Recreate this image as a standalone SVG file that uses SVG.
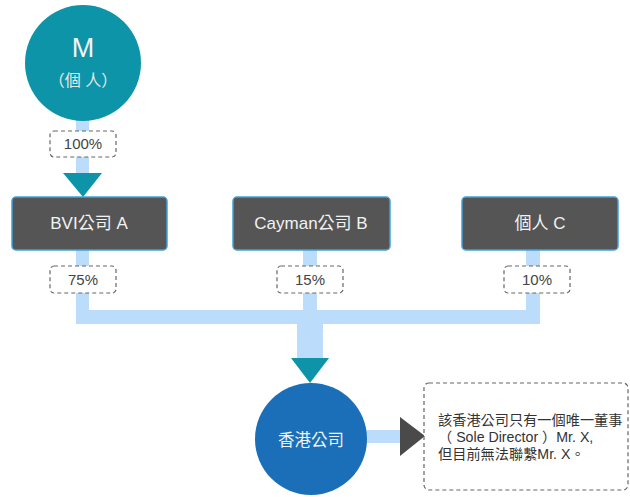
<svg xmlns="http://www.w3.org/2000/svg" width="630" height="497" viewBox="0 0 630 497">
<style>
.bar{fill:#BBDDFB}
.box rect{fill:#555555;stroke:#3FA2D8;stroke-width:1.5}
.box text{fill:#F2F2F2;font-family:"Liberation Sans","Noto Sans CJK TC",sans-serif;font-size:17px;text-anchor:middle}
.pct rect{fill:#FFFFFF;stroke:#666666;stroke-width:1.2;stroke-dasharray:4 3}
.pct text{fill:#444444;font-family:"Liberation Sans",sans-serif;font-size:15px;text-anchor:middle}
.note{fill:#333333;font-family:"Liberation Sans","Noto Sans CJK TC",sans-serif;font-size:14.2px}
</style>
<rect width="630" height="497" fill="#FFFFFF"/>
<g id="connectors">
<rect class="bar" x="76" y="120" width="13" height="55"/>
<polygon points="63,173 102,173 83,197" fill="#0E94A8"/>
<rect class="bar" x="76" y="250" width="13" height="74"/>
<rect class="bar" x="303" y="250" width="14" height="74"/>
<rect class="bar" x="526" y="250" width="14" height="74"/>
<rect class="bar" x="76" y="310" width="464" height="14"/>
<rect class="bar" x="297" y="310" width="26" height="50"/>
<polygon points="291,358 329,358 310,383" fill="#0E94A8"/>
<rect class="bar" x="365" y="430" width="37" height="13"/>
<polygon points="400,417 425,436 400,456" fill="#4A4A4A"/>
</g>
<g id="nodeM">
<circle cx="83" cy="63" r="58" fill="#0E94A8"/>
<text x="83" y="57" fill="#F4F4F4" font-family="Liberation Sans,sans-serif" font-size="27" text-anchor="middle">M</text>
<text x="83" y="86" fill="#E8E8E8" font-family="Liberation Sans,Noto Sans CJK TC,sans-serif" font-size="16" text-anchor="middle">（個 人）</text>
</g>
<g id="pct100" class="pct"><rect x="50" y="131" width="66" height="26" rx="4"/><text x="83" y="149">100%</text></g>
<g id="nodeA" class="box"><rect x="12" y="197" width="155" height="53" rx="4"/><text x="89" y="229">BVI公司 A</text></g>
<g id="nodeB" class="box"><rect x="233" y="197" width="157" height="53" rx="4"/><text x="311" y="229">Cayman公司 B</text></g>
<g id="nodeC" class="box"><rect x="462" y="197" width="156" height="53" rx="4"/><text x="540" y="229">個人 C</text></g>
<g id="pct75" class="pct"><rect x="50" y="266" width="66" height="27" rx="4"/><text x="83" y="285">75%</text></g>
<g id="pct15" class="pct"><rect x="277" y="266" width="66" height="27" rx="4"/><text x="310" y="285">15%</text></g>
<g id="pct10" class="pct"><rect x="504" y="266" width="66" height="27" rx="4"/><text x="537" y="285">10%</text></g>
<g id="nodeHK">
<circle cx="311" cy="439" r="56" fill="#1A6FB8"/>
<text x="311" y="446" fill="#F2F2F2" font-family="Liberation Sans,Noto Sans CJK TC,sans-serif" font-size="16.5" text-anchor="middle">香港公司</text>
</g>
<g id="noteBox">
<rect x="424" y="383" width="204" height="107" rx="5" fill="#FFFFFF" stroke="#666666" stroke-width="1.2" stroke-dasharray="4 3"/>
<text class="note" x="438" y="425">該香港公司只有一個唯一董事</text>
<text class="note" x="438" y="442">（ Sole Director ）Mr. X,</text>
<text class="note" x="438" y="459">但目前無法聯繫Mr. X。</text>
</g>
</svg>
